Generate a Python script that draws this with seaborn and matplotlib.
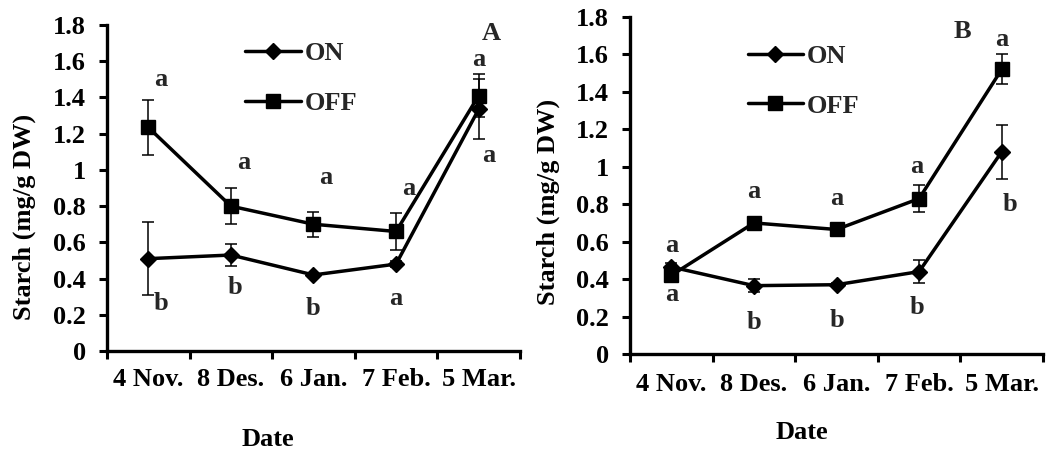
import numpy as np
import pandas as pd
import matplotlib
matplotlib.use("Agg")
import matplotlib.pyplot as plt
import seaborn as sns
from matplotlib.lines import Line2D

# ---------------- data ----------------
dates = ["4 Nov.", "8 Des.", "6 Jan.", "7 Feb.", "5 Mar."]

a_on = [0.51, 0.53, 0.42, 0.48, 1.335]
a_on_err = [0.20, 0.06, 0.01, 0.015, 0.165]
a_off = [1.235, 0.80, 0.70, 0.66, 1.41]
a_off_err = [0.15, 0.10, 0.07, 0.10, 0.12]

b_on = [0.465, 0.365, 0.37, 0.44, 1.08]
b_on_err = [0.02, 0.035, 0.01, 0.06, 0.145]
b_off = [0.42, 0.70, 0.665, 0.83, 1.52]
b_off_err = [0.03, 0.02, 0.02, 0.07, 0.08]

a_on_letters = ["b", "b", "b", "a", "a"]
a_off_letters = ["a", "a", "a", "a", "a"]
b_on_letters = ["a", "b", "b", "b", "b"]
b_off_letters = ["a", "a", "a", "a", "a"]

y_ticks = [0, 0.2, 0.4, 0.6, 0.8, 1.0, 1.2, 1.4, 1.6, 1.8]
y_tick_labels = ["0", "0.2", "0.4", "0.6", "0.8", "1", "1.2", "1.4", "1.6", "1.8"]

# ---------------- layout (annotation placement) ----------------
a_off_pos = [(0.15, 1.50), (1.15, 1.04), (2.15, 0.96), (3.15, 0.90), (4.0, 1.61)]
a_on_pos = [(0.15, 0.265), (1.05, 0.35), (2.0, 0.235), (3.0, 0.29), (4.12, 1.08)]
b_off_pos = [(0.0, 0.58), (1.0, 0.87), (2.0, 0.83), (2.97, 1.0), (4.0, 1.68)]
b_on_pos = [(0.0, 0.32), (1.0, 0.17), (2.0, 0.18), (2.97, 0.25), (4.1, 0.80)]

sns.set_theme(style="white")
plt.rcParams["font.family"] = ["Liberation Serif", "DejaVu Serif"]
plt.rcParams["font.weight"] = "bold"

FS = 19
LW = 2.5
MS_SQ = 10.5
MS_D = 7.8
fig = plt.figure(figsize=(10.53, 4.51), dpi=100)
fig.patch.set_facecolor("white")

panels = [
    dict(rect=[0.1016, 0.2217, 0.3922, 0.7228], on=a_on, on_err=a_on_err, off=a_off,
         off_err=a_off_err, on_l=a_on_letters, off_l=a_off_letters, on_p=a_on_pos,
         off_p=a_off_pos, tag="A", tag_pos=(4.15, 1.755), leg=(0.335, 0.837),
         ylab=(-0.172, 0.41), xlab=(0.39, -0.236), xpad=12.5),
    dict(rect=[0.5983, 0.2151, 0.3922, 0.7472], on=b_on, on_err=b_on_err, off=b_off,
         off_err=b_off_err, on_l=b_on_letters, off_l=b_off_letters, on_p=b_on_pos,
         off_p=b_off_pos, tag="B", tag_pos=(3.53, 1.72), leg=(0.285, 0.81),
         ylab=(-0.17, 0.45), xlab=(0.415, -0.199), xpad=14),
]

x = np.arange(len(dates))

for p in panels:
    ax = fig.add_axes(p["rect"])
    ax.set_facecolor("white")
    df = pd.DataFrame({
        "x": np.concatenate([x, x]),
        "starch": p["on"] + p["off"],
        "trt": ["ON"] * len(x) + ["OFF"] * len(x),
    })
    ax.errorbar(x, p["off"], yerr=p["off_err"], fmt="none", ecolor="black",
                elinewidth=1.1, capsize=4.5, capthick=1.1, zorder=2, clip_on=False)
    ax.errorbar(x, p["on"], yerr=p["on_err"], fmt="none", ecolor="black",
                elinewidth=1.1, capsize=4.5, capthick=1.1, zorder=2, clip_on=False)
    sns.lineplot(data=df[df.trt == "OFF"], x="x", y="starch", ax=ax, color="black",
                 marker="s", markersize=MS_SQ, markeredgewidth=1,
                 markeredgecolor="black", markerfacecolor="black", linewidth=LW,
                 legend=False, zorder=3, clip_on=False)
    sns.lineplot(data=df[df.trt == "ON"], x="x", y="starch", ax=ax, color="black",
                 marker="D", markersize=MS_D, markeredgewidth=1,
                 markeredgecolor="black", markerfacecolor="black", linewidth=LW,
                 legend=False, zorder=3, clip_on=False)

    for lt, (px, py) in zip(p["off_l"], p["off_p"]):
        ax.text(px, py, lt, ha="center", va="center", fontsize=FS, fontweight="bold")
    for lt, (px, py) in zip(p["on_l"], p["on_p"]):
        ax.text(px, py, lt, ha="center", va="center", fontsize=FS, fontweight="bold")
    ax.text(p["tag_pos"][0], p["tag_pos"][1], p["tag"], ha="center", va="center",
            fontsize=FS, fontweight="bold")

    ax.set_xlim(-0.5, len(dates) - 0.5)
    ax.set_ylim(0, 1.8)
    ax.set_xticks(np.arange(-0.5, len(dates), 1.0))
    ax.set_xticklabels([])
    ax.set_xticks(x, minor=True)
    ax.set_xticklabels(dates, minor=True, fontsize=FS, fontweight="bold")
    ax.set_yticks(y_ticks)
    ax.set_yticklabels(y_tick_labels, fontsize=FS, fontweight="bold")
    ax.tick_params(axis="x", which="major", direction="out", length=6, width=2.2,
                   color="black", bottom=True)
    ax.tick_params(axis="x", which="minor", length=0, pad=p["xpad"], colors="black")
    ax.tick_params(axis="y", which="major", direction="out", length=6, width=2.2,
                   color="black", left=True, pad=9, labelcolor="black")
    for s in ["top", "right"]:
        ax.spines[s].set_visible(False)
    for s in ["left", "bottom"]:
        ax.spines[s].set_color("black")
        ax.spines[s].set_linewidth(2.4)

    ax.set_ylabel("Starch (mg/g DW)", fontsize=FS, fontweight="bold", color="black")
    ax.yaxis.set_label_coords(*p["ylab"])
    ax.set_xlabel("Date", fontsize=FS, fontweight="bold", color="black")
    ax.xaxis.set_label_coords(*p["xlab"])

    handles = [
        Line2D([], [], color="black", lw=LW, marker="D", markersize=MS_D,
               markeredgecolor="black", markerfacecolor="black"),
        Line2D([], [], color="black", lw=LW, marker="s", markersize=MS_SQ,
               markeredgecolor="black", markerfacecolor="black"),
    ]
    ax.legend(handles, ["ON", "OFF"], loc="center left", bbox_to_anchor=p["leg"],
              frameon=False, fontsize=FS, handlelength=2.1, handletextpad=0.15,
              labelspacing=1.0, borderpad=0, borderaxespad=0,
              prop={"weight": "bold", "size": FS})

fig.savefig("out.png", dpi=100, facecolor="white")
